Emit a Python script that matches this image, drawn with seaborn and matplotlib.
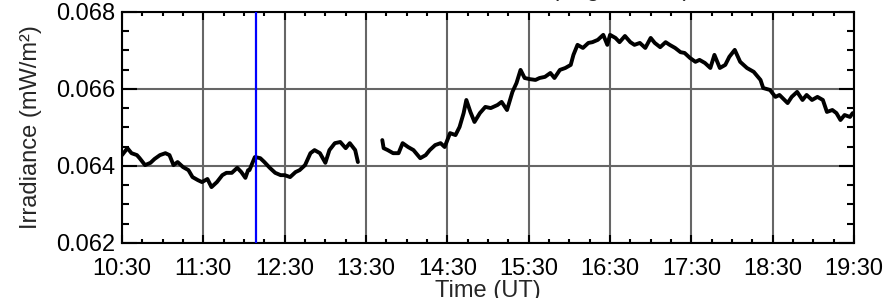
import matplotlib
matplotlib.use("Agg")
import matplotlib.pyplot as plt
import pandas as pd
import seaborn as sns
from matplotlib.ticker import FixedLocator, MultipleLocator

# Irradiance trace (two pieces, gap around 13:25-13:42)
times_a = ["10:30", "10:34", "10:37", "10:41", "10:43", "10:47", "10:51", "10:54",
           "10:58", "11:02", "11:05", "11:08", "11:11", "11:15", "11:19", "11:22",
           "11:26", "11:29", "11:33", "11:36", "11:40", "11:44", "11:47", "11:51",
           "11:55", "11:58", "12:01", "12:03", "12:04", "12:08", "12:12", "12:15",
           "12:19", "12:23", "12:27", "12:30", "12:34", "12:38", "12:41", "12:45",
           "12:49", "12:52", "12:56", "13:00", "13:03", "13:07", "13:11", "13:15",
           "13:18", "13:22", "13:24"]
irr_a = [0.06428, 0.06446, 0.06433, 0.06428, 0.06420, 0.06402, 0.06408, 0.06418,
         0.06428, 0.06433, 0.06428, 0.06402, 0.06410, 0.06397, 0.06389, 0.06371,
         0.06363, 0.06358, 0.06366, 0.06345, 0.06358, 0.06376, 0.06382, 0.06382,
         0.06395, 0.06384, 0.06369, 0.06389, 0.06389, 0.06423, 0.06420, 0.06410,
         0.06395, 0.06382, 0.06376, 0.06376, 0.06371, 0.06384, 0.06389, 0.06402,
         0.06433, 0.06441, 0.06433, 0.06408, 0.06441, 0.06459, 0.06462, 0.06446,
         0.06459, 0.06441, 0.06410]

times_b = ["13:42", "13:43", "13:46", "13:50", "13:54", "13:57", "14:01", "14:05",
           "14:10", "14:14", "14:17", "14:21", "14:25", "14:28", "14:32", "14:36",
           "14:39", "14:42", "14:44", "14:47", "14:50", "14:54", "14:58", "15:02",
           "15:07", "15:10", "15:14", "15:18", "15:21", "15:24", "15:27", "15:31",
           "15:35", "15:38", "15:42", "15:46", "15:49", "15:53", "15:57", "16:01",
           "16:03", "16:06", "16:10", "16:14", "16:17", "16:21", "16:25", "16:28",
           "16:30", "16:34", "16:37", "16:41", "16:45", "16:48", "16:52", "16:56",
           "17:00", "17:03", "17:07", "17:11", "17:14", "17:18", "17:22", "17:25",
           "17:29", "17:33", "17:36", "17:40", "17:44", "17:47", "17:51", "17:55",
           "17:58", "18:02", "18:06", "18:11", "18:16", "18:21", "18:23", "18:28",
           "18:32", "18:35", "18:41", "18:44", "18:48", "18:52", "18:55", "18:59",
           "19:03", "19:07", "19:10", "19:14", "19:17", "19:20", "19:23", "19:27",
           "19:29"]
irr_b = [0.06467, 0.06446, 0.06441, 0.06433, 0.06433, 0.06459, 0.06449, 0.06441,
         0.06420, 0.06428, 0.06441, 0.06454, 0.06459, 0.06449, 0.06485, 0.06480,
         0.06501, 0.06537, 0.06571, 0.06540, 0.06514, 0.06537, 0.06553, 0.06550,
         0.06558, 0.06566, 0.06545, 0.06592, 0.06615, 0.06649, 0.06628, 0.06625,
         0.06623, 0.06628, 0.06631, 0.06641, 0.06628, 0.06649, 0.06654, 0.06662,
         0.06688, 0.06714, 0.06706, 0.06719, 0.06721, 0.06727, 0.06740, 0.06714,
         0.06740, 0.06732, 0.06721, 0.06737, 0.06721, 0.06714, 0.06719, 0.06706,
         0.06732, 0.06719, 0.06708, 0.06721, 0.06714, 0.06706, 0.06695, 0.06693,
         0.06680, 0.06670, 0.06675, 0.06667, 0.06654, 0.06688, 0.06654, 0.06662,
         0.06683, 0.06701, 0.06670, 0.06654, 0.06644, 0.06623, 0.06602, 0.06597,
         0.06579, 0.06584, 0.06563, 0.06579, 0.06592, 0.06571, 0.06584, 0.06571,
         0.06579, 0.06571, 0.06540, 0.06545, 0.06537, 0.06519, 0.06532, 0.06527,
         0.06537]

flare_time = "12:09"
tick_labels = ["10:30", "11:30", "12:30", "13:30", "14:30", "15:30",
               "16:30", "17:30", "18:30", "19:30"]
y_ticks = [0.062, 0.064, 0.066, 0.068]


def to_hours(s):
    h, m = s.split(":")
    return int(h) + int(m) / 60.0


df = pd.concat([
    pd.DataFrame({"hours": [to_hours(t) for t in times_a], "irr": irr_a, "seg": 0}),
    pd.DataFrame({"hours": [to_hours(t) for t in times_b], "irr": irr_b, "seg": 1}),
])

sns.set_theme(style="ticks")
plt.rcParams["font.family"] = ["Liberation Sans", "DejaVu Sans"]

fig = plt.figure(figsize=(8.9, 2.98), dpi=100)
ax = fig.add_axes([0.1371, 0.1846, 0.8225, 0.7761])

sns.lineplot(data=df, x="hours", y="irr", units="seg", estimator=None,
             color="black", lw=2.8, ax=ax, zorder=3)
ax.axvline(to_hours(flare_time), color="#0000ff", lw=1.6, zorder=4)

ax.set_xlim(to_hours(tick_labels[0]), to_hours(tick_labels[-1]))
ax.set_ylim(y_ticks[0], y_ticks[-1])

ax.xaxis.set_major_locator(FixedLocator([to_hours(t) for t in tick_labels]))
ax.set_xticklabels(tick_labels)
ax.xaxis.set_minor_locator(MultipleLocator(0.25))
ax.yaxis.set_major_locator(FixedLocator(y_ticks))
ax.set_yticklabels([f"{v:.3f}" for v in y_ticks])
ax.yaxis.set_minor_locator(MultipleLocator(0.0005))

ax.grid(True, which="major", color="#666666", lw=1.5)
ax.set_axisbelow(True)

for sp in ax.spines.values():
    sp.set_linewidth(1.5)
    sp.set_color("black")

ax.tick_params(which="both", direction="in", top=True, right=True,
               color="black", width=1.5, labelsize=17, labelcolor="black")
ax.tick_params(axis="x", which="major", length=6, pad=11)
ax.tick_params(axis="x", which="minor", length=3)
ax.tick_params(axis="y", which="major", length=11, pad=5)
ax.tick_params(axis="y", which="minor", length=5)

ax.set_xlabel("Time (UT)", fontsize=17, labelpad=0)
ax.set_ylabel("Irradiance (mW/m²)", fontsize=17, labelpad=10)

# title sits mostly above the canvas, only its descenders show
fig.text(691 / 890, 1.014, "ESP Irradiance (Avg. 10 sec)", ha="right",
         va="baseline", fontsize=17)

fig.savefig("out.png", dpi=100)
